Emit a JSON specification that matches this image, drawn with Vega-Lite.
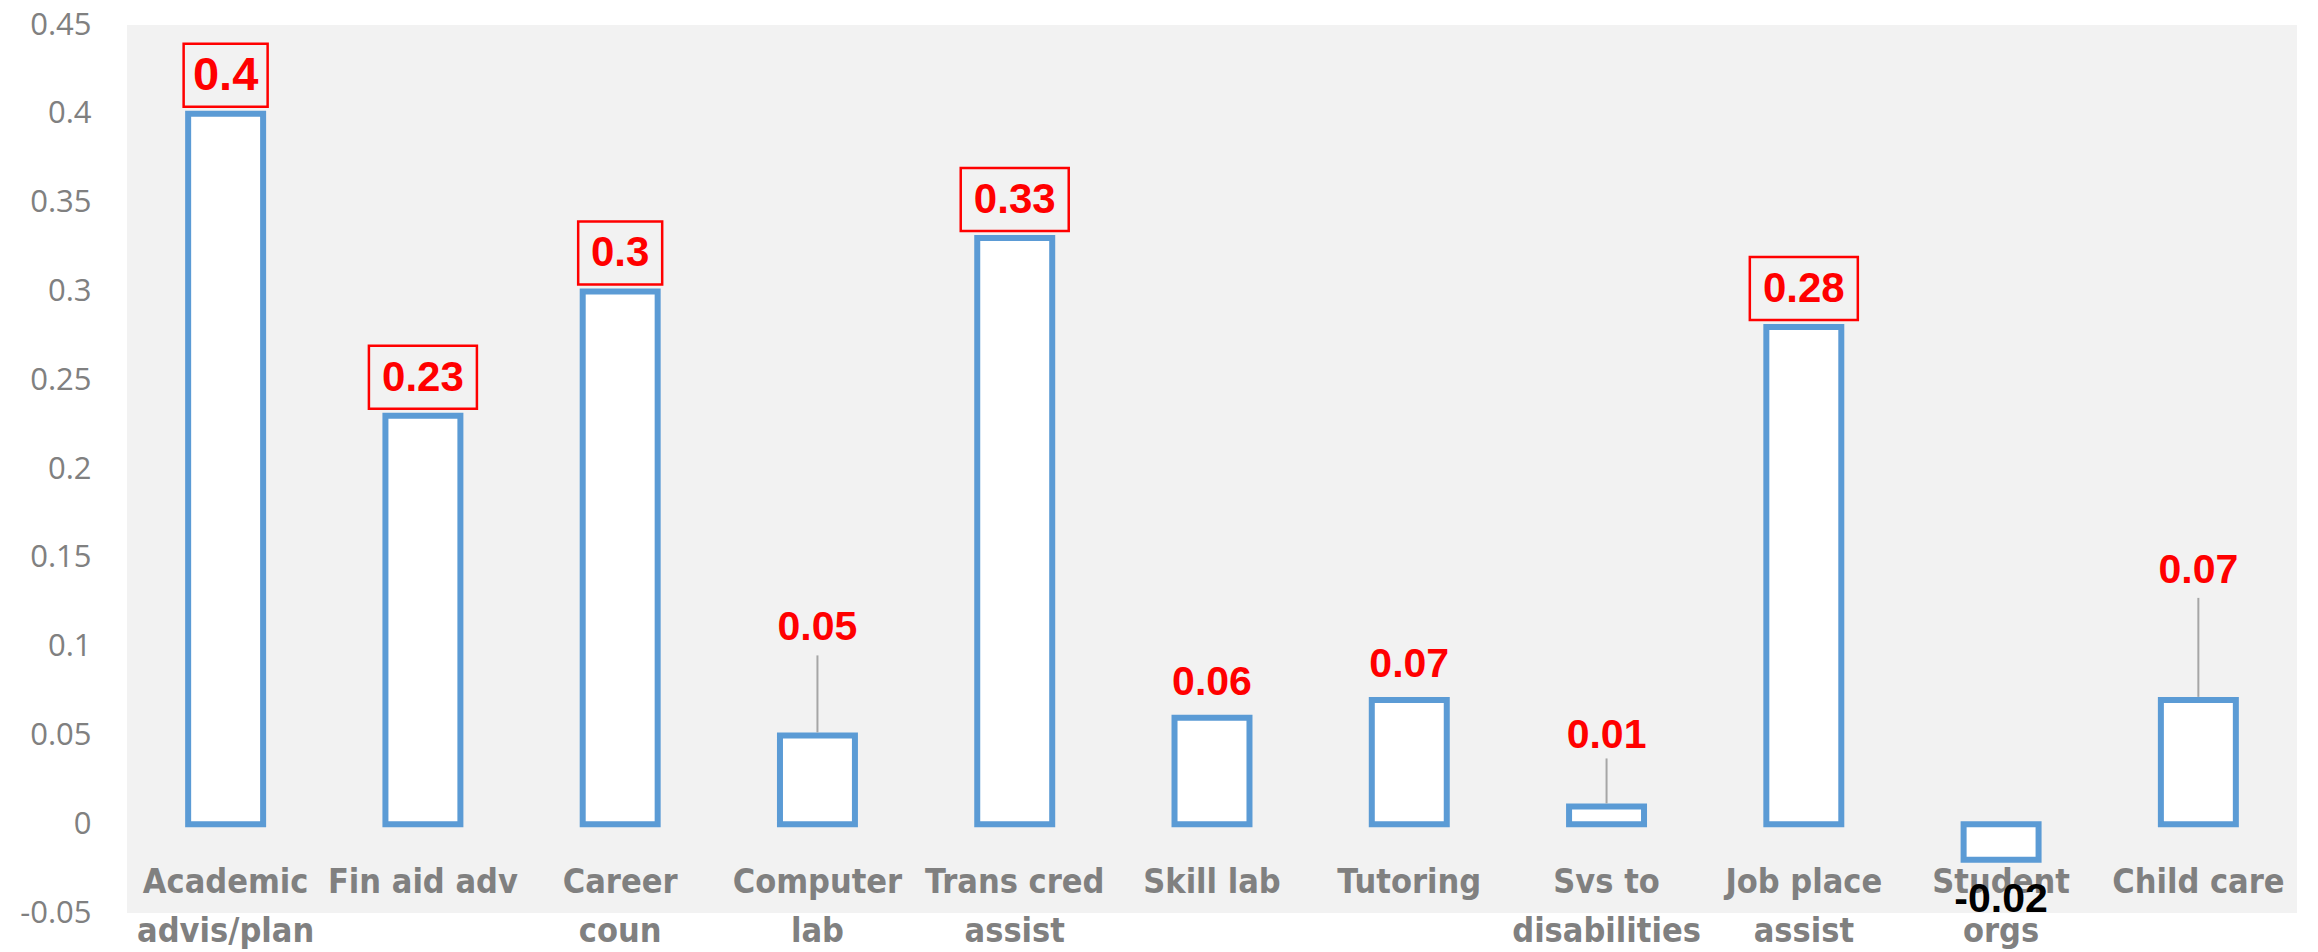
{
  "$schema": "https://vega.github.io/schema/vega-lite/v6.json",
  "autosize": {"type": "none"},
  "width": 2170,
  "height": 888,
  "padding": {"left": 127, "top": 25, "right": 21, "bottom": 39},
  "background": "#ffffff",
  "config": {
    "view": {"stroke": null, "fill": "#f2f2f2"}
  },
  "data": {
    "values": [
      {"service": "Academic advis/plan", "value": 0.4},
      {"service": "Fin aid adv", "value": 0.23},
      {"service": "Career coun", "value": 0.3},
      {"service": "Computer lab", "value": 0.05},
      {"service": "Trans cred assist", "value": 0.33},
      {"service": "Skill lab", "value": 0.06},
      {"service": "Tutoring", "value": 0.07},
      {"service": "Svs to disabilities", "value": 0.01},
      {"service": "Job place assist", "value": 0.28},
      {"service": "Student orgs", "value": -0.02},
      {"service": "Child care", "value": 0.07}
    ]
  },
  "encoding": {
    "x": {
      "field": "service",
      "type": "nominal",
      "sort": null,
      "scale": {"paddingInner": 0.62, "paddingOuter": 0.31},
      "axis": {
        "title": null,
        "orient": "bottom",
        "offset": -90,
        "domain": false,
        "ticks": false,
        "tickSize": 0,
        "labelAngle": 0,
        "labelPadding": 69,
        "labelBaseline": "alphabetic",
        "labelLineHeight": 49,
        "labelFont": "Liberation Sans Narrow, DejaVu Sans Condensed, Roboto",
        "labelFontWeight": "bold",
        "labelFontSize": 34,
        "labelColor": "#808080",
        "labelOverlap": false,
        "labelLimit": 0,
        "labelExpr": "datum.value == 'Academic advis/plan' ? ['Academic','advis/plan'] : datum.value == 'Career coun' ? ['Career','coun'] : datum.value == 'Computer lab' ? ['Computer','lab'] : datum.value == 'Trans cred assist' ? ['Trans cred','assist'] : datum.value == 'Svs to disabilities' ? ['Svs to','disabilities'] : datum.value == 'Job place assist' ? ['Job place','assist'] : datum.value == 'Student orgs' ? ['Student','orgs'] : datum.label"
      }
    },
    "y": {
      "field": "value",
      "type": "quantitative",
      "scale": {"domain": [-0.05, 0.45], "nice": false, "zero": false},
      "axis": {
        "title": null,
        "values": [-0.05, 0, 0.05, 0.1, 0.15, 0.2, 0.25, 0.3, 0.35, 0.4, 0.45],
        "domain": false,
        "ticks": false,
        "tickSize": 0,
        "grid": false,
        "labelPadding": 36,
        "labelFont": "Open Sans",
        "labelFontSize": 31,
        "labelColor": "#808080",
        "labelExpr": "replace(format(datum.value, '.2~f'), '\u2212', '-')"
      }
    }
  },
  "layer": [
    {
      "mark": {"type": "bar", "fill": "#ffffff", "stroke": "#5b9bd5", "strokeWidth": 6},
      "encoding": {
        "y": {"field": "value", "type": "quantitative"},
        "y2": {"datum": 0}
      }
    },
    {
      "transform": [{"filter": "datum.value > 0.2 && length(toString(datum.value)) == 3"}],
      "mark": {"type": "bar", "filled": false, "stroke": "#ff0000", "strokeWidth": 2.5, "width": 84, "yOffset": -7, "y2Offset": -70},
      "encoding": {"y2": {"field": "value"}}
    },
    {
      "transform": [{"filter": "datum.value > 0.2 && length(toString(datum.value)) == 4"}],
      "mark": {"type": "bar", "filled": false, "stroke": "#ff0000", "strokeWidth": 2.5, "width": 108, "yOffset": -7, "y2Offset": -70},
      "encoding": {"y2": {"field": "value"}}
    },
    {
      "transform": [{"filter": "datum.service == 'Computer lab'"}],
      "mark": {"type": "rule", "stroke": "#a6a6a6", "strokeWidth": 2, "yOffset": -3, "y2Offset": -80},
      "encoding": {"y2": {"field": "value"}}
    },
    {
      "transform": [{"filter": "datum.service == 'Child care'"}],
      "mark": {"type": "rule", "stroke": "#a6a6a6", "strokeWidth": 2, "yOffset": -3, "y2Offset": -102},
      "encoding": {"y2": {"field": "value"}}
    },
    {
      "transform": [{"filter": "datum.service == 'Svs to disabilities'"}],
      "mark": {"type": "rule", "stroke": "#a6a6a6", "strokeWidth": 2, "yOffset": -3, "y2Offset": -48},
      "encoding": {"y2": {"field": "value"}}
    },
    {
      "transform": [{"filter": "datum.value > 0.2"}],
      "mark": {"type": "text", "font": "Liberation Sans", "fontWeight": "bold", "color": "#ff0000", "baseline": "middle", "dy": -38},
      "encoding": {
        "text": {"field": "value", "type": "nominal"},
        "size": {"condition": {"test": "datum.value == 0.4", "value": 47}, "value": 42}
      }
    },
    {
      "transform": [{"filter": "datum.service == 'Skill lab' || datum.service == 'Tutoring'"}],
      "mark": {"type": "text", "font": "Liberation Sans", "fontWeight": "bold", "fontSize": 41, "color": "#ff0000", "baseline": "middle", "dy": -35},
      "encoding": {"text": {"field": "value", "type": "nominal"}}
    },
    {
      "transform": [{"filter": "datum.service == 'Computer lab'"}],
      "mark": {"type": "text", "font": "Liberation Sans", "fontWeight": "bold", "fontSize": 41, "color": "#ff0000", "baseline": "middle", "dy": -107},
      "encoding": {"text": {"field": "value", "type": "nominal"}}
    },
    {
      "transform": [{"filter": "datum.service == 'Child care'"}],
      "mark": {"type": "text", "font": "Liberation Sans", "fontWeight": "bold", "fontSize": 41, "color": "#ff0000", "baseline": "middle", "dy": -129},
      "encoding": {"text": {"field": "value", "type": "nominal"}}
    },
    {
      "transform": [{"filter": "datum.service == 'Svs to disabilities'"}],
      "mark": {"type": "text", "font": "Liberation Sans", "fontWeight": "bold", "fontSize": 41, "color": "#ff0000", "baseline": "middle", "dy": -70},
      "encoding": {"text": {"field": "value", "type": "nominal"}}
    },
    {
      "transform": [{"filter": "datum.service == 'Student orgs'"}],
      "mark": {"type": "text", "font": "Liberation Sans", "fontWeight": "bold", "fontSize": 41, "color": "#000000", "baseline": "middle", "dy": 40},
      "encoding": {"text": {"field": "value", "type": "nominal"}}
    }
  ]
}
